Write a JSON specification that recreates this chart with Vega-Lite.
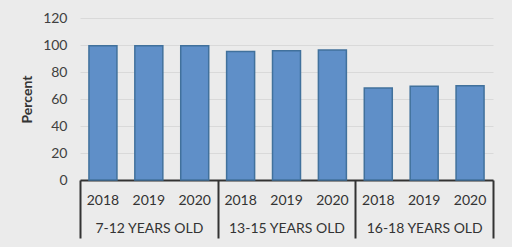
{
  "$schema": "https://vega.github.io/schema/vega-lite/v6.json",
  "width": 413,
  "height": 162,
  "autosize": {"type": "none"},
  "padding": {"left": 80, "top": 18, "right": 19, "bottom": 67},
  "background": "#ebebeb",
  "config": {
    "view": {"stroke": null},
    "font": "Lato",
    "axis": {"labelFont": "Lato", "titleFont": "Lato"}
  },
  "data": {
    "values": [
      {"group": "7-12 YEARS OLD", "year": "2018", "key": "7-12 YEARS OLD|2018", "value": 99.5},
      {"group": "7-12 YEARS OLD", "year": "2019", "key": "7-12 YEARS OLD|2019", "value": 99.5},
      {"group": "7-12 YEARS OLD", "year": "2020", "key": "7-12 YEARS OLD|2020", "value": 99.5},
      {"group": "13-15 YEARS OLD", "year": "2018", "key": "13-15 YEARS OLD|2018", "value": 95.1},
      {"group": "13-15 YEARS OLD", "year": "2019", "key": "13-15 YEARS OLD|2019", "value": 95.8},
      {"group": "13-15 YEARS OLD", "year": "2020", "key": "13-15 YEARS OLD|2020", "value": 96.3},
      {"group": "16-18 YEARS OLD", "year": "2018", "key": "16-18 YEARS OLD|2018", "value": 68.1},
      {"group": "16-18 YEARS OLD", "year": "2019", "key": "16-18 YEARS OLD|2019", "value": 69.4},
      {"group": "16-18 YEARS OLD", "year": "2020", "key": "16-18 YEARS OLD|2020", "value": 69.9}
    ]
  },
  "layer": [
    {
      "mark": {"type": "bar", "color": "#5f8fc8", "stroke": "#41719c", "strokeWidth": 1.5},
      "encoding": {
        "x": {
          "field": "key",
          "type": "nominal",
          "sort": null,
          "scale": {"paddingInner": 0.39, "paddingOuter": 0.195},
          "axis": {
            "title": null,
            "labelExpr": "slice(datum.label, -4)",
            "labelAngle": 0,
            "ticks": false,
            "domainColor": "#333333",
            "domainWidth": 2,
            "labelFontSize": 14,
            "labelColor": "#333333",
            "labelPadding": 13
          }
        },
        "y": {
          "field": "value",
          "type": "quantitative",
          "scale": {"domain": [0, 120]},
          "axis": {
            "title": "Percent",
            "titleFontWeight": "bold",
            "titleFontSize": 14,
            "titleColor": "#333333",
            "titlePadding": 8,
            "values": [0, 20, 40, 60, 80, 100, 120],
            "domain": false,
            "ticks": false,
            "labelFontSize": 14,
            "labelColor": "#404040",
            "labelPadding": 13,
            "gridColor": "#d9d9d9",
            "gridWidth": 1
          }
        }
      }
    },
    {
      "mark": {"type": "rule", "opacity": 0},
      "encoding": {
        "x": {
          "field": "group",
          "type": "nominal",
          "sort": null,
          "scale": {"paddingInner": 0, "paddingOuter": 0},
          "axis": {
            "title": null,
            "orient": "bottom",
            "labelAngle": 0,
            "domain": false,
            "grid": false,
            "ticks": true,
            "tickBand": "extent",
            "tickSize": 58,
            "tickWidth": 2,
            "tickColor": "#333333",
            "labelFontSize": 14,
            "labelColor": "#333333",
            "labelPadding": -17
          }
        }
      }
    }
  ],
  "resolve": {"scale": {"x": "independent"}, "axis": {"x": "independent"}}
}
